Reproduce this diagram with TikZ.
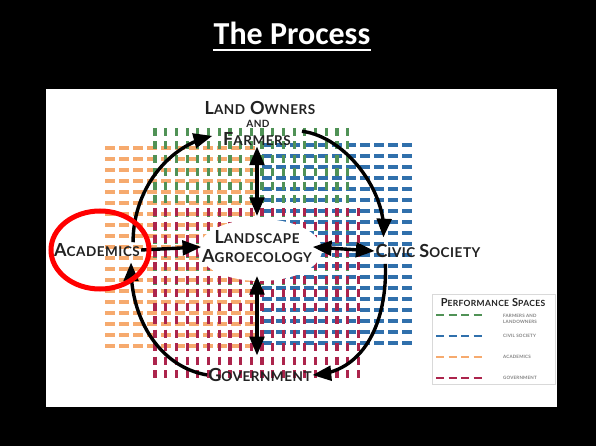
\documentclass[tikz,border=0pt]{standalone}
\usepackage{fontspec}
\setmainfont{Carlito}
\newfontfamily\labelfont[LetterSpace=4]{Lato}
\usetikzlibrary{arrows,positioning}

\definecolor{ownergreen}{RGB}{80,146,86}
\definecolor{civicblue}{RGB}{48,112,172}
\definecolor{academicorange}{RGB}{246,170,110}
\definecolor{govred}{RGB}{172,36,76}
\definecolor{labelgray}{RGB}{34,34,34}

% fake small caps: big first letter, smaller rest
\newcommand{\capsc}[2]{{\fontsize{18}{18}\selectfont #1}{\fontsize{13.5}{13.5}\selectfont #2}}
\newcommand{\keysc}[2]{{\fontsize{11}{11}\selectfont #1}{\fontsize{8.5}{8.5}\selectfont #2}}

\tikzset{
    vdash/.style={
    line width=3.2pt
    },
    hdash/.style={
    line width=3.4pt
    },
    actor/.style={
    font=\labelfont\bfseries\fontsize{13.5}{19}\selectfont,text=labelgray,inner sep=1pt
    },
    flow/.style={
    -triangle 45,line width=3.4pt,draw=black
    },
    twoflow/.style={
    triangle 45-triangle 45,line width=3.4pt,draw=black
    },
    keytext/.style={
    font=\labelfont\bfseries\fontsize{4.5}{6}\selectfont,text=gray,align=left,inner sep=0pt,anchor=west
    },
}

\begin{document}
\begin{tikzpicture}[x=1pt,y=-1pt]
   \fill[black] (0,0) rectangle (596,446);
   \useasboundingbox (0,0) rectangle (596,446);
   \fill[white] (46,89) rectangle (557,407);

   \node[text=white,font=\bfseries\fontsize{32}{32}\selectfont,inner sep=0pt,anchor=base] (title) at (292,45) {The Process};
   \draw[white,line width=2.5pt] ([yshift=-5pt]title.base west) -- ([yshift=-5pt]title.base east);

   % performance spaces
   \foreach \i in {0,...,10}
     \foreach \j in {0,...,18}
       \draw[academicorange,hdash] (105+\i*14,148+\j*11) -- ++(10,0);
   \foreach \i in {0,...,10}
     \foreach \j in {0,...,18}
       \draw[civicblue,hdash] (262+\i*14,145+\j*11) -- ++(10,0);
   \foreach \i in {0,...,18}
     \foreach \j in {0,...,11}
       \draw[ownergreen,vdash] (155+\i*10.7,128+\j*13.5) -- ++(0,8);
   \foreach \i in {0,...,19}
     \foreach \j in {0,...,12}
       \draw[govred,vdash] (155+\i*10.7,208+\j*13.5) -- ++(0,8);
   \fill[white] (260,250) ellipse [x radius=62,y radius=31];

   % actors
   \node[actor] (owners) at (260,108) {\capsc{L}{AND}\hspace{5pt}\capsc{O}{WNERS}};
   \node[actor,font=\labelfont\bfseries\fontsize{10}{10}\selectfont] (and) at (258,124) {AND};
   \node[actor] (farmers) at (257,139) {\capsc{F}{ARMERS}};
   \node[actor,align=center] (landscape) at (257,247) {\capsc{L}{ANDSCAPE}\\\capsc{A}{GROECOLOGY}};
   \node[actor] (academics) at (97,250) {\capsc{A}{CADEMICS}};
   \node[actor] (civic) at (428,251) {\capsc{C}{IVIC}\hspace{4pt}\capsc{S}{OCIETY}};
   \node[actor] (government) at (260,375) {\capsc{G}{OVERNMENT}};

   % cycle
   \draw[flow] ([xshift=-8pt]academics.north east) .. controls +(0,-52) and +(-45,12) .. ([xshift=-10pt,yshift=3pt]farmers.west);
   \draw[flow] ([xshift=10pt]farmers.north east) .. controls +(45,6) and +(2,-45) .. ([xshift=9pt,yshift=6pt]civic.north west);
   \draw[flow] ([xshift=11pt,yshift=-5pt]civic.south west) .. controls +(2,57) and +(52,-5) .. (government.east);
   \draw[flow] (government.west) .. controls +(-47,-8) and +(0,57) .. ([xshift=-10pt,yshift=-5pt]academics.south east);

   % to and from the landscape
   \draw[flow] (academics.east) -- (landscape.west);
   \draw[twoflow] (landscape.east) -- (civic.west);
   \draw[twoflow,shorten >=14pt] (farmers.south) -- (farmers.south |- landscape.north);
   \draw[twoflow,shorten <=12pt,shorten >=12pt] (landscape.south) -- (landscape.south |- government.north);

   \draw[red,line width=5pt] (100,250) ellipse [x radius=49,y radius=39];

   % key
   \draw[black!15,line width=1pt] (432,294) rectangle (555,384);
   \node[actor,font=\labelfont\bfseries\fontsize{8.5}{8.5}\selectfont] (keytitle) at (493,303) {\keysc{P}{ERFORMANCE}\hspace{3pt}\keysc{S}{PACES}};
   \foreach \k in {0,...,3} {
     \draw[ownergreen,line width=2.4pt] (436+\k*12.5,315) -- ++(8,0);
     \draw[civicblue,line width=2.4pt] (436+\k*12.5,336) -- ++(8,0);
     \draw[academicorange,line width=2.4pt] (436+\k*12.5,357) -- ++(8,0);
     \draw[govred,line width=2.4pt] (436+\k*12.5,378) -- ++(8,0);
   }
   \node[keytext] (keyowners) at (503,319) {FARMERS AND\\LANDOWNERS};
   \node[keytext] (keycivic) at (503,336) {CIVIL SOCIETY};
   \node[keytext] (keyacademics) at (503,357) {ACADEMICS};
   \node[keytext] (keygov) at (503,378) {GOVERNMENT};
\end{tikzpicture}
\end{document}
